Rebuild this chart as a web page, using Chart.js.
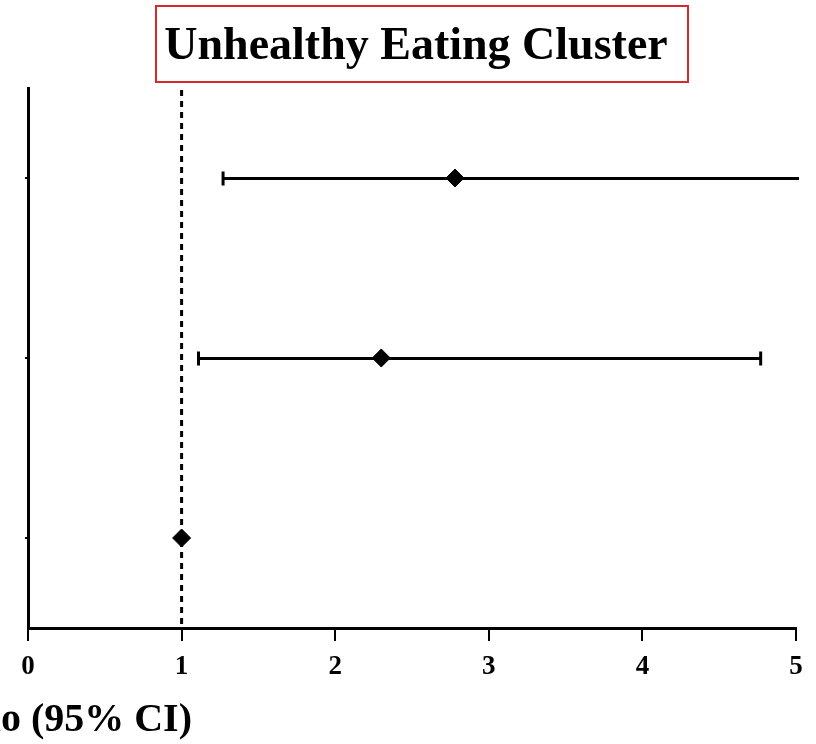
<!DOCTYPE html>
<html>
<head>
<title>Unhealthy Eating Cluster</title>
<style>
    body { margin: 0; background: #FFFFFF; }
    #wrap { position: relative; width: 816px; height: 744px; overflow: hidden; }
    #forest { position: absolute; left: 0; top: 0; }
    .title-box {
        position: absolute; left: 155px; top: 5px; width: 518px; height: 74px; padding-right: 12px;
        border: 2px solid #d42a2a; box-sizing: content-box;
        font-family: 'Liberation Serif', serif; font-weight: bold; font-size: 46px;
        line-height: 74px; text-align: center; color: #000; white-space: nowrap;
    }
    .x-title {
        position: absolute; right: 624px; top: 698px; white-space: nowrap; line-height: 40px;
        font-family: 'Liberation Serif', serif; font-weight: bold; font-size: 40px; color: #000;
    }
</style>
<script src="https://cdn.jsdelivr.net/npm/chart.js"></script>
</head>
<body>
<div id="wrap">
    <canvas id="forest" width="816" height="744"></canvas>
    <div class="title-box">Unhealthy Eating Cluster</div>
    <div class="x-title">Odds Ratio (95% CI)</div>
</div>
<script>
    // rows from top to bottom
    const rows = [1, 2, 3];
    const oddsRatio = [2.78, 2.30, 1.00];
    const lowerCI = [1.27, 1.11, null];
    const upperCI = [5.60, 4.77, null];
    const xTicks = [0, 1, 2, 3, 4, 5];

    const errorBars = {
        id: 'errorBars',
        beforeDatasetsDraw(chart) {
            const ctx = chart.ctx, xs = chart.scales.x, ys = chart.scales.y, area = chart.chartArea;
            ctx.save();
            // reference line at OR = 1
            ctx.strokeStyle = '#000';
            ctx.lineWidth = 3;
            ctx.setLineDash([6, 5]);
            ctx.beginPath();
            ctx.moveTo(xs.getPixelForValue(1), area.top + 2);
            ctx.lineTo(xs.getPixelForValue(1), area.bottom);
            ctx.stroke();
            ctx.setLineDash([]);
            ctx.beginPath();
            ctx.rect(0, 0, area.right + 3, chart.height);
            ctx.clip();
            rows.forEach((r, i) => {
                if (lowerCI[i] == null) return;
                const y = ys.getPixelForValue(r) + 0.5;
                const x1 = xs.getPixelForValue(lowerCI[i]);
                const x2 = xs.getPixelForValue(upperCI[i]);
                ctx.beginPath();
                ctx.moveTo(x1, y);
                ctx.lineTo(x2, y);
                ctx.moveTo(x1, y - 7);
                ctx.lineTo(x1, y + 7);
                if (upperCI[i] <= 5) {
                    ctx.moveTo(x2, y - 7);
                    ctx.lineTo(x2, y + 7);
                }
                ctx.stroke();
            });
            ctx.restore();
        }
    };

    new Chart(document.getElementById('forest'), {
        type: 'scatter',
        data: {
            datasets: [{
                data: rows.map((r, i) => ({ x: oddsRatio[i], y: r })),
                pointStyle: 'rectRot',
                pointRadius: 9,
                backgroundColor: '#000',
                borderColor: '#000'
            }]
        },
        options: {
            responsive: false,
            animation: false,
            layout: { padding: { top: 88, right: 20, left: 0, bottom: 0 } },
            plugins: { legend: { display: false }, tooltip: { enabled: false } },
            scales: {
                x: {
                    type: 'linear', min: 0, max: 5,
                    afterBuildTicks: s => { s.ticks = xTicks.map(v => ({ value: v })); },
                    afterFit: s => { s.height = 116; },
                    border: { color: '#000', width: 3 },
                    grid: { drawOnChartArea: false, color: '#000', lineWidth: 2, tickLength: 13 },
                    ticks: {
                        color: '#000', padding: 10,
                        font: { family: 'Liberation Serif', weight: 'bold', size: 27 }
                    }
                },
                y: {
                    type: 'linear', min: 0.5, max: 3.5, reverse: true,
                    afterBuildTicks: s => { s.ticks = rows.map(v => ({ value: v })); },
                    afterFit: s => { s.width = 28; },
                    border: { color: '#000', width: 3 },
                    grid: { drawOnChartArea: false, color: '#000', lineWidth: 2, tickLength: 3 },
                    ticks: { display: false }
                }
            }
        },
        plugins: [errorBars]
    });
</script>
</body>
</html>
